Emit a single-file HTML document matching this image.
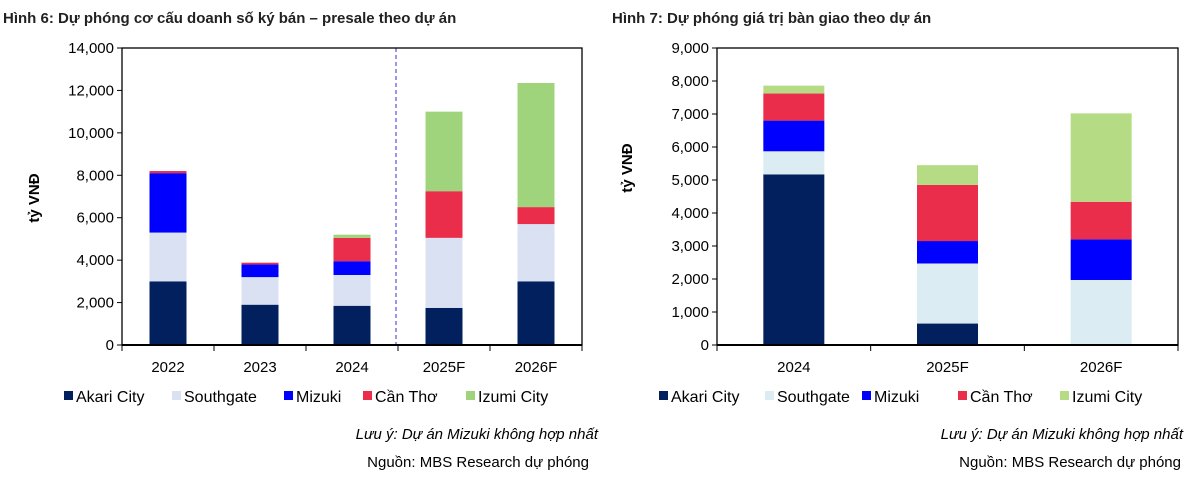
<!DOCTYPE html>
<html><head><meta charset="utf-8"><style>
body{margin:0;background:#fff;width:1193px;height:480px;overflow:hidden}
svg{font-family:"Liberation Sans",Arial,sans-serif}
</style></head><body>
<svg id="s" width="1193" height="480" xmlns="http://www.w3.org/2000/svg">
<text x="3" y="23" font-size="15" font-weight="bold" fill="#222">Hình 6: Dự phóng cơ cấu doanh số ký bán – presale theo dự án</text>
<text x="612" y="23" font-size="15" font-weight="bold" fill="#222">Hình 7: Dự phóng giá trị bàn giao theo dự án</text>
<text transform="translate(39,198) rotate(-90)" font-size="15" font-weight="bold" text-anchor="middle">tỷ VNĐ</text>
<text transform="translate(632,168) rotate(-90)" font-size="15" font-weight="bold" text-anchor="middle">tỷ VNĐ</text>
<g id="g"></g>
<text x="598" y="439" font-size="15" font-style="italic" text-anchor="end">Lưu ý: Dự án Mizuki không hợp nhất</text>
<text x="589" y="467" font-size="15" text-anchor="end">Nguồn: MBS Research dự phóng</text>
<text x="1183" y="439" font-size="15" font-style="italic" text-anchor="end">Lưu ý: Dự án Mizuki không hợp nhất</text>
<text x="1181" y="467" font-size="15" text-anchor="end">Nguồn: MBS Research dự phóng</text>
</svg>
<script>
var g=document.getElementById('g'),h='';
function chart(o){
 var x0=o.x0,x1=o.x1,yt=48,yb=345,n=o.cats.length,cw=(x1-x0)/n;
 var sc=(yb-yt)/o.max;
 for(var i=0;i<n;i++){
  var cx=x0+cw*(i+.5),prev=0;
  for(var k=0;k<5;k++){var v=o.data[i][k];if(v>prev){var ya=yb-v*sc,yb2=yb-prev*sc;
   h+='<rect x="'+(cx-o.bw/2)+'" y="'+ya+'" width="'+o.bw+'" height="'+(yb2-ya)+'" fill="'+o.col[k]+'"/>';prev=v;}}
  h+='<text x="'+cx+'" y="372" font-size="15" text-anchor="middle">'+o.cats[i]+'</text>';
  h+='<line x1="'+(x0+cw*i)+'" y1="345" x2="'+(x0+cw*i)+'" y2="351" stroke="#000"/>';
 }
 h+='<line x1="'+x1+'" y1="345" x2="'+x1+'" y2="351" stroke="#000"/>';
 for(var v=0;v<=o.max;v+=o.step){var y=yb-v*sc;
  h+='<line x1="'+(x0-5)+'" y1="'+y+'" x2="'+x0+'" y2="'+y+'" stroke="#000"/>';
  h+='<text x="'+(x0-8)+'" y="'+(y+5)+'" font-size="15" text-anchor="end">'+v.toLocaleString('en-US')+'</text>';}
 if(o.dash)h+='<line x1="'+o.dash+'" y1="'+yt+'" x2="'+o.dash+'" y2="'+yb+'" stroke="#3a2bd8" stroke-dasharray="4,3"/>';
 h+='<rect x="'+x0+'" y="'+yt+'" width="'+(x1-x0)+'" height="'+(yb-yt)+'" fill="none" stroke="#000" stroke-width="1.3"/>';
 h+='<line x1="'+x0+'" y1="'+yb+'" x2="'+x1+'" y2="'+yb+'" stroke="#000" stroke-width="2"/>';
 var names=['Akari City','Southgate','Mizuki','Cần Thơ','Izumi City'];
 for(var k=0;k<5;k++){var lx=o.lx[k];
  h+='<rect x="'+lx+'" y="391" width="9" height="9" fill="'+o.col[k]+'"/>';
  h+='<text x="'+(lx+12)+'" y="402" font-size="16">'+names[k]+'</text>';}
}
chart({x0:122,x1:582,max:14000,step:2000,bw:37,dash:396,cats:['2022','2023','2024','2025F','2026F'],
 col:['#02205e','#d9e1f2','#0000ff','#ea2d4a','#a0d47c'],
 lx:[64,172,284,363,466],
 data:[[3000,5300,8100,8200,8200],[1900,3200,3800,3880,3880],[1850,3300,3950,5050,5200],[1750,5050,5050,7250,11000],[3000,5700,5700,6500,12350]]});
chart({x0:717,x1:1178,max:9000,step:1000,bw:61,cats:['2024','2025F','2026F'],
 col:['#02205e','#dbedf3','#0000ff','#ea2d4a','#b5dc85'],
 lx:[659,765,862,958,1060],
 data:[[5170,5870,6800,7620,7860],[650,2470,3150,4850,5450],[0,1970,3200,4340,7020]]});
g.innerHTML=h;
</script>
</body></html>
